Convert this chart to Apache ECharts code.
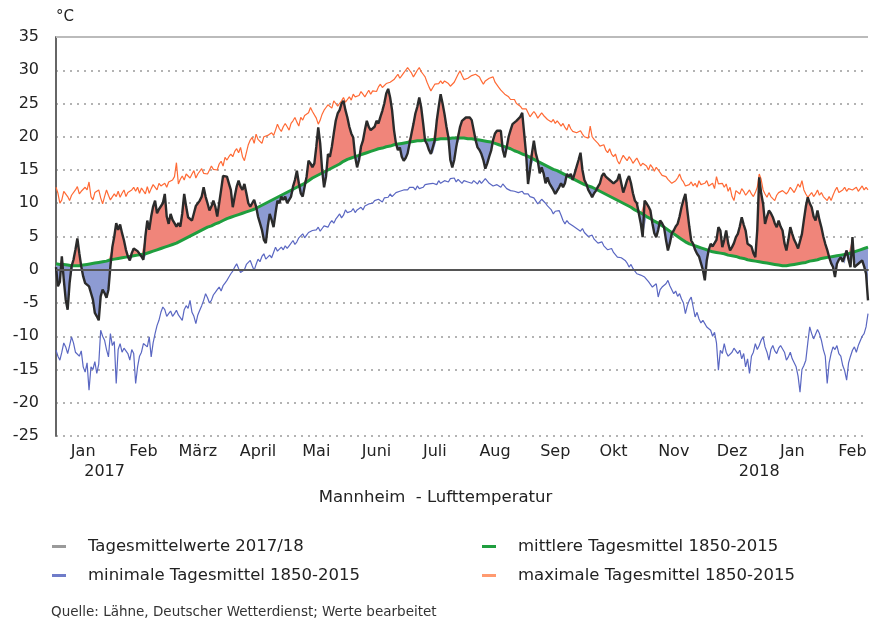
<!DOCTYPE html>
<html>
<head>
<meta charset="utf-8">
<script src="https://cdn.jsdelivr.net/npm/echarts@6/dist/echarts.min.js"></script>
<style>
  html, body { margin: 0; padding: 0; background: #fff; }
  #chart { width: 871px; height: 619px; }
</style>
</head>
<body>
<div id="chart"></div>
<script>
// Mannheim daily air temperature, 1 Jan 2017 .. 23 Feb 2018 (one value per day)
const startDate = Date.UTC(2017, 0, 1)
const dayCount = 419
const monthNames = ['Jan', 'Feb', 'März', 'April', 'Mai', 'Juni', 'Juli', 'Aug', 'Sep', 'Okt', 'Nov', 'Dez']
const yearLabels = { '2017-01-26': '2017', '2017-12-29': '2018' }
const yTicks = [-25, -20, -15, -10, -5, 0, 5, 10, 15, 20, 25, 30, 35]

// Tagesmittelwerte 2017/18
const actual = [
  0.4,-2.5,-1.8,2.0,-1.5,-4.5,-6.0,-2.0,0.5,1.5,3.0,4.7,2.5,0.5,-1.0,-2.0,-2.2,-2.5,-3.5,-4.5,-6.5,-7.0,-7.6,-4.0,-3.0,-3.5,-4.2,-3.0,0.5,3.4,5.0,
  7.0,6.0,6.8,5.5,4.4,3.0,2.0,1.4,2.5,3.2,3.0,2.8,3.0,2.0,1.5,5.0,7.4,6.0,8.0,9.5,10.4,8.5,9.1,9.0,10.0,11.4,8.0,6.9,
  8.4,7.5,7.0,6.5,7.0,6.5,8.5,11.4,9.5,7.9,8.0,7.4,8.5,9.6,10.0,10.4,11.0,12.4,11.0,10.0,8.9,9.5,10.4,9.5,8.0,7.9,12.0,14.1,14.0,14.0,13.0,
  12.0,9.4,11.0,12.5,13.4,12.5,12.0,12.9,11.5,10.0,9.5,10.0,10.5,9.5,8.0,7.0,6.0,4.5,4.0,6.5,8.4,7.5,6.4,8.5,10.4,10.0,11.0,10.5,11.0,10.0,
  10.5,11.0,12.5,13.5,14.9,13.0,11.5,11.0,12.5,14.0,16.4,16.0,15.4,16.0,18.5,21.4,19.0,15.0,12.4,14.0,17.4,17.0,18.5,20.5,22.4,23.5,24.0,25.0,25.4,24.0,22.9,
  21.5,20.5,19.9,17.0,15.4,16.5,18.5,19.4,21.0,22.4,21.5,21.0,21.0,21.5,22.4,22.0,23.0,23.9,25.0,26.5,27.2,25.9,24.0,21.0,19.0,18.0,18.4,17.0,16.4,16.8,
  17.5,19.0,20.5,21.9,23.5,24.5,25.9,24.4,22.0,19.4,18.9,18.0,17.4,17.5,19.5,22.4,24.5,26.4,25.0,23.4,21.5,19.9,16.5,15.4,16.5,18.4,20.0,21.5,22.4,22.6,22.9,
  22.8,22.9,22.5,21.0,19.5,18.4,18.0,17.4,16.5,15.2,16.0,17.0,17.9,19.5,20.5,20.9,21.0,20.9,18.0,16.9,18.4,20.0,21.0,21.9,22.0,22.4,22.4,23.0,23.6,20.5,17.4,
  12.9,15.0,17.5,19.4,17.5,16.4,14.5,15.4,14.5,13.0,13.9,13.0,12.5,12.0,11.4,11.5,12.4,13.0,12.4,13.0,14.4,14.0,14.4,13.5,13.4,15.5,16.5,17.6,15.0,13.5,
  12.9,12.0,11.5,10.9,11.5,11.9,12.5,13.0,14.1,14.5,14.0,14.1,13.5,13.6,13.0,12.9,13.5,14.4,13.0,11.6,12.5,13.5,14.1,13.0,11.5,10.4,10.0,9.9,7.0,4.9,10.4,
  10.0,9.5,8.9,7.0,5.5,4.9,6.0,7.4,7.0,6.4,4.5,2.9,4.0,5.5,5.9,6.5,6.9,8.0,9.4,10.5,11.4,8.9,6.5,4.4,3.9,3.0,2.4,2.0,1.0,0.0,
  -1.6,1.4,3.0,3.9,3.5,3.4,4.5,6.4,5.9,3.4,4.5,5.9,4.0,2.9,3.4,4.0,4.9,5.4,6.5,7.9,6.8,5.9,3.9,4.2,3.5,2.5,1.9,6.0,13.9,11.5,9.9,
  6.9,8.0,8.9,8.5,7.9,7.0,6.4,7.4,6.5,5.9,4.0,2.9,4.5,6.4,5.4,4.5,3.9,3.2,2.9,5.4,7.5,9.5,10.9,10.0,9.4,8.0,7.4,8.9,7.5,6.4,5.0,
  3.9,3.0,1.9,1.0,0.4,-1.1,0.9,1.5,1.9,1.2,0.9,2.9,1.5,0.4,4.9,0.4,0.5,0.9,1.2,1.4,0.5,-0.6,-4.6
]

// mittlere Tagesmittel 1850-2015
const meanT = [
  0.9,0.9,0.8,0.8,0.8,0.7,0.7,0.7,0.6,0.6,0.6,0.6,0.6,0.7,0.7,0.8,0.8,0.9,0.9,1.0,1.0,1.1,1.1,1.2,1.2,1.3,1.3,1.4,1.5,1.5,1.6,
  1.6,1.7,1.7,1.8,1.8,1.9,1.9,2.0,2.0,2.1,2.1,2.2,2.2,2.3,2.4,2.4,2.5,2.6,2.7,2.8,2.9,3.0,3.1,3.2,3.3,3.4,3.5,3.6,
  3.7,3.8,3.9,4.0,4.1,4.3,4.4,4.6,4.7,4.9,5.0,5.2,5.3,5.5,5.6,5.8,5.9,6.1,6.2,6.4,6.5,6.6,6.8,6.9,7.0,7.1,7.3,7.4,7.5,7.7,7.8,
  7.9,8.0,8.1,8.2,8.3,8.4,8.5,8.6,8.7,8.8,8.9,9.0,9.1,9.3,9.4,9.6,9.7,9.9,10.0,10.2,10.3,10.5,10.6,10.7,10.9,11.0,11.2,11.3,11.5,11.6,
  11.8,11.9,12.1,12.2,12.4,12.5,12.7,12.9,13.0,13.2,13.4,13.6,13.8,14.0,14.1,14.3,14.4,14.6,14.7,14.9,15.0,15.2,15.3,15.5,15.6,15.8,15.9,16.1,16.3,16.5,16.6,
  16.7,16.8,16.9,17.0,17.1,17.2,17.3,17.4,17.5,17.6,17.7,17.8,17.9,18.0,18.1,18.2,18.2,18.3,18.4,18.5,18.6,18.6,18.7,18.8,18.9,18.9,19.0,19.0,19.1,19.1,
  19.2,19.2,19.2,19.3,19.3,19.4,19.4,19.4,19.5,19.5,19.5,19.5,19.6,19.6,19.6,19.6,19.6,19.7,19.7,19.7,19.7,19.7,19.8,19.8,19.8,19.8,19.8,19.8,19.8,19.8,19.8,
  19.7,19.7,19.7,19.6,19.6,19.6,19.5,19.5,19.4,19.4,19.3,19.3,19.2,19.1,19.0,18.9,18.8,18.7,18.6,18.5,18.4,18.3,18.2,18.1,17.9,17.8,17.7,17.5,17.4,17.3,17.2,
  17.0,16.9,16.7,16.6,16.5,16.3,16.2,16.0,15.9,15.7,15.6,15.4,15.3,15.1,15.0,14.9,14.7,14.6,14.4,14.3,14.1,14.0,13.8,13.7,13.5,13.4,13.2,13.1,12.9,12.8,
  12.7,12.6,12.5,12.4,12.2,12.1,12.0,11.8,11.7,11.5,11.4,11.2,11.1,10.9,10.8,10.6,10.5,10.3,10.2,10.0,9.9,9.7,9.6,9.4,9.2,9.0,8.9,8.7,8.5,8.4,8.2,
  8.0,7.8,7.7,7.5,7.3,7.1,7.0,6.8,6.6,6.4,6.2,6.0,5.8,5.6,5.4,5.2,5.0,4.8,4.6,4.4,4.2,4.1,3.9,3.8,3.7,3.6,3.5,3.4,3.3,3.2,
  3.1,3.0,2.9,2.8,2.7,2.7,2.6,2.5,2.5,2.4,2.4,2.3,2.2,2.2,2.1,2.0,2.0,1.9,1.8,1.8,1.7,1.6,1.5,1.5,1.4,1.4,1.3,1.2,1.2,1.1,1.1,
  1.0,1.0,0.9,0.9,0.8,0.8,0.7,0.7,0.7,0.6,0.6,0.6,0.6,0.7,0.7,0.8,0.8,0.9,0.9,1.0,1.1,1.1,1.2,1.3,1.3,1.4,1.5,1.5,1.6,1.7,1.7,
  1.8,1.8,1.9,1.9,2.0,2.0,2.1,2.1,2.2,2.2,2.3,2.4,2.4,2.5,2.6,2.7,2.8,2.9,3.0,3.1,3.2,3.3,3.4
]

// minimale Tagesmittel 1850-2015
const minT = [
  -12.1,-13.0,-13.6,-12.4,-11.0,-11.6,-12.6,-11.4,-10.1,-11.0,-12.4,-12.1,-13.0,-12.2,-14.6,-15.4,-14.0,-18.1,-14.6,-15.0,-13.8,-15.6,-14.2,-9.1,-10.0,-10.6,-12.0,-13.1,-9.6,-11.4,-10.8,
  -17.1,-12.0,-11.1,-12.4,-11.8,-11.6,-12.6,-13.6,-12.0,-12.6,-17.1,-14.6,-13.0,-12.4,-11.1,-10.8,-11.6,-10.1,-13.1,-11.0,-9.6,-8.4,-7.6,-6.4,-5.6,-6.0,-7.0,-6.6,
  -6.2,-7.0,-6.6,-6.1,-6.8,-7.2,-7.6,-6.0,-5.4,-5.8,-4.6,-6.4,-7.0,-8.1,-6.8,-6.1,-5.4,-4.6,-3.6,-4.2,-5.0,-4.6,-3.8,-3.4,-3.0,-2.6,-3.2,-2.4,-2.0,-1.6,-1.1,
  -0.6,-0.2,0.4,0.9,0.2,-0.4,-0.6,0.0,0.8,1.0,1.4,0.6,-0.1,0.8,1.6,1.2,2.0,2.4,1.6,1.9,2.2,1.8,2.6,3.4,2.8,3.0,3.4,3.0,3.6,3.2,
  3.6,3.9,4.4,3.8,4.2,4.8,5.0,5.4,4.8,5.2,5.6,5.4,5.9,5.6,6.0,6.4,5.8,6.2,6.6,6.9,6.4,7.0,7.4,7.0,7.6,8.0,8.4,7.8,8.2,9.0,8.6,
  8.4,8.8,9.2,8.6,9.0,8.8,9.4,9.0,9.6,9.4,9.9,9.6,10.0,10.4,10.2,10.6,10.6,10.2,10.8,11.0,10.9,11.4,11.0,11.2,11.6,11.4,11.8,11.6,12.0,11.8,
  12.0,12.4,12.2,12.4,12.0,12.6,12.2,12.4,12.4,12.8,12.6,12.9,12.6,13.0,13.2,12.8,13.4,13.0,13.2,13.4,13.6,13.2,13.7,13.4,13.8,13.2,13.6,13.4,13.0,13.4,13.6,
  13.2,13.4,13.0,13.4,13.2,12.9,13.4,13.0,13.2,13.7,13.4,13.0,12.8,12.6,12.4,12.8,12.6,12.4,12.9,12.6,12.2,12.4,11.9,12.2,11.8,12.0,11.6,11.4,11.8,11.4,11.6,
  11.4,11.0,11.2,10.8,10.6,9.9,10.2,10.6,10.4,10.0,9.6,9.4,9.0,8.4,8.8,8.6,8.9,8.2,7.4,6.9,7.4,7.0,6.9,6.6,6.8,6.2,6.0,5.8,6.2,5.6,
  5.4,5.0,4.8,5.2,4.6,4.4,4.0,3.9,4.2,3.6,3.4,3.0,2.9,3.2,2.6,2.4,1.9,2.2,1.8,1.9,1.4,1.0,0.4,0.8,0.2,-0.2,-0.6,-0.4,-0.8,-1.0,-1.1,
  -1.4,-1.8,-2.0,-2.6,-2.4,-2.1,-4.1,-3.0,-2.6,-2.8,-2.1,-1.6,-2.4,-3.0,-3.6,-3.2,-4.0,-3.6,-4.4,-5.0,-6.6,-5.4,-4.6,-4.1,-5.6,-7.1,-6.4,-7.4,-8.0,-7.6,
  -8.1,-8.6,-8.4,-9.1,-10.0,-9.4,-11.0,-15.1,-12.1,-12.6,-11.1,-12.4,-13.0,-13.1,-12.4,-11.8,-12.1,-12.6,-12.1,-13.4,-12.6,-14.6,-13.4,-15.6,-13.0,-12.4,-11.1,-12.0,-11.4,-10.6,-10.1,
  -11.6,-12.4,-13.6,-12.0,-11.4,-12.2,-12.6,-11.8,-11.4,-11.1,-12.4,-13.6,-13.1,-12.4,-13.4,-14.0,-14.6,-16.0,-18.4,-15.0,-14.4,-13.6,-11.0,-8.6,-9.6,-10.4,-10.1,-9.0,-9.6,-10.6,-12.0,
  -13.0,-17.1,-14.0,-12.6,-11.6,-12.0,-11.4,-12.6,-13.0,-14.4,-15.2,-16.6,-14.0,-13.0,-12.1,-11.6,-12.4,-11.4,-11.1,-10.0,-9.6,-8.6,-6.6
]

// maximale Tagesmittel 1850-2015
const maxT = [
  12.4,11.5,10.0,10.5,11.8,12.0,11.0,10.4,11.2,11.0,12.0,12.5,11.4,11.8,11.5,12.4,12.0,13.2,11.0,10.5,11.6,11.5,12.0,10.8,9.9,11.0,12.0,11.2,10.5,10.6,11.4,
  11.0,11.8,10.9,11.5,12.0,11.0,11.6,11.5,12.0,12.4,11.8,12.4,11.5,12.3,12.0,11.4,12.5,11.5,12.2,12.8,12.5,12.0,13.0,12.6,12.9,13.0,12.4,13.2,
  13.0,13.5,14.0,16.1,12.9,13.6,14.1,13.5,14.4,14.2,13.8,14.4,14.9,13.8,14.4,14.6,15.2,14.5,14.8,14.4,15.0,15.6,15.1,15.4,15.0,15.9,16.3,15.6,16.9,16.5,17.0,
  17.4,17.0,17.8,18.2,17.6,18.4,17.0,16.4,17.6,18.8,19.5,19.9,19.0,20.4,19.6,19.5,19.0,20.0,19.9,20.2,19.9,20.6,20.2,21.0,21.9,21.2,20.8,21.5,22.0,21.5,
  21.0,22.0,22.4,22.9,22.2,21.6,22.9,22.5,23.2,23.0,23.6,24.4,23.8,23.5,22.8,21.9,22.5,23.4,24.0,24.4,24.8,25.0,24.3,25.4,25.0,24.6,25.0,25.4,25.9,25.2,25.6,
  26.0,25.5,26.4,26.0,25.8,26.2,26.8,26.4,26.0,26.5,27.0,26.4,26.9,27.2,26.8,27.5,27.9,27.4,27.6,28.0,27.9,28.2,28.0,28.6,29.0,29.4,28.8,29.2,29.6,30.0,
  30.4,30.0,29.6,29.0,29.5,30.0,30.4,29.8,29.4,29.0,28.2,27.5,26.9,27.4,27.9,27.6,28.0,28.4,28.0,28.4,28.4,28.0,27.6,27.4,28.2,28.8,29.4,29.9,29.2,28.6,28.4,
  28.8,29.0,29.2,29.0,29.4,29.4,29.0,28.4,27.9,28.4,28.6,28.8,29.0,29.0,28.2,27.8,27.4,27.0,26.8,26.4,26.6,26.0,25.6,25.4,25.6,25.0,24.9,24.6,24.2,23.9,24.2,
  23.6,23.0,23.4,23.8,23.4,22.8,23.0,23.6,23.2,23.4,22.6,22.8,22.2,22.6,22.0,22.4,22.0,21.6,22.0,21.4,21.0,21.9,21.2,20.8,21.0,20.6,20.4,20.9,20.4,20.0,
  20.2,19.8,21.6,20.0,19.6,19.4,19.0,18.6,18.4,18.8,18.0,17.6,18.2,17.4,17.0,17.4,16.4,15.9,16.6,17.2,16.8,16.4,17.0,16.6,16.0,16.4,16.8,16.2,15.6,16.0,15.9,
  15.6,15.0,15.8,15.4,14.8,15.4,15.0,14.6,14.2,14.4,14.0,13.6,13.8,13.0,12.9,13.4,13.8,14.4,13.6,13.2,12.6,12.4,12.8,13.2,12.6,13.0,12.4,13.4,12.8,12.6,
  13.0,13.4,12.6,12.4,13.0,12.2,14.0,12.9,12.6,13.0,12.4,12.9,11.8,12.4,11.0,10.4,11.9,11.6,11.4,12.2,11.8,11.2,11.6,12.0,11.4,11.0,11.6,12.4,14.4,13.6,12.0,
  11.4,10.9,11.6,11.0,10.8,10.4,11.2,11.6,11.4,11.9,12.2,11.4,11.8,12.4,12.0,11.6,12.2,12.9,12.4,13.4,12.0,11.4,10.9,11.2,11.6,11.0,11.4,12.0,11.2,11.6,11.0,
  10.8,10.4,11.0,10.4,11.2,11.9,12.4,11.6,11.8,12.0,12.4,11.8,12.2,12.4,12.0,11.9,12.4,11.8,12.2,12.6,12.0,12.4,12.0
]

const days = []
for (let i = 0; i < dayCount; i++) {
  days.push(new Date(startDate + i * 86400000).toISOString().slice(0, 10))
}

// fills between the daily value and the long-term mean (red above, blue below)
const upFill = actual.map((v, i) => Math.max(v - meanT[i], 0))
const downBase = actual.map((v, i) => Math.min(v, meanT[i]))
const downFill = actual.map((v, i) => Math.max(meanT[i] - v, 0))

const font = 'DejaVu Sans'
const chart = echarts.init(document.getElementById('chart'))

const legendItem = (name, color, left, top) => ({
  left: left,
  top: top,
  icon: 'rect',
  itemWidth: 14,
  itemHeight: 3,
  selectedMode: false,
  data: [{ name: name, itemStyle: { color: color } }],
  textStyle: { fontFamily: font, fontSize: 16.5, color: '#222', padding: [0, 0, 0, 17] }
})

const hidden = { symbol: 'none', lineStyle: { opacity: 0 }, silent: true }

chart.setOption({
  animation: false,
  backgroundColor: '#fff',
  textStyle: { fontFamily: font },
  title: [
    {
      text: 'Mannheim  - Lufttemperatur',
      left: 'center',
      top: 484,
      textStyle: { fontFamily: font, fontSize: 16.5, fontWeight: 'normal', color: '#222' }
    },
    {
      text: 'Quelle: Lähne, Deutscher Wetterdienst; Werte bearbeitet',
      left: 46,
      top: 600,
      textStyle: { fontFamily: font, fontSize: 13.5, fontWeight: 'normal', color: '#333' }
    }
  ],
  legend: [
    legendItem('Tagesmittelwerte 2017/18', '#9a9a9a', 47, 533),
    legendItem('mittlere Tagesmittel 1850-2015', '#1f9e3e', 477, 533),
    legendItem('minimale Tagesmittel 1850-2015', '#6f7cc9', 47, 562),
    legendItem('maximale Tagesmittel 1850-2015', '#ff9a70', 477, 562)
  ],
  grid: { left: 56, right: 3, top: 37, bottom: 183 },
  xAxis: [
    {
      type: 'category',
      data: days,
      boundaryGap: false,
      axisLine: { lineStyle: { color: '#666', width: 2 } },
      axisTick: { show: false },
      axisLabel: {
        interval: (idx, val) => val.slice(8) === '15',
        formatter: val => monthNames[+val.slice(5, 7) - 1],
        margin: 8,
        fontFamily: font,
        fontSize: 16,
        color: '#222'
      },
      splitLine: { show: false }
    },
    {
      type: 'category',
      data: days,
      boundaryGap: false,
      position: 'bottom',
      offset: 20,
      axisLine: { show: false },
      axisTick: { show: false },
      axisLabel: {
        interval: (idx, val) => val in yearLabels,
        formatter: val => yearLabels[val] || '',
        margin: 8,
        fontFamily: font,
        fontSize: 16,
        color: '#222'
      }
    }
  ],
  yAxis: {
    type: 'value',
    min: yTicks[0],
    max: yTicks[yTicks.length - 1],
    interval: 5,
    name: '°C',
    nameLocation: 'end',
    nameGap: 12,
    nameTextStyle: { align: 'left', fontFamily: font, fontSize: 15, color: '#222' },
    axisLine: { show: true, lineStyle: { color: '#666', width: 2 } },
    axisTick: { show: false },
    axisLabel: { margin: 17, fontFamily: font, fontSize: 16, color: '#222' },
    splitLine: { lineStyle: { color: '#9a9a9a', width: 1.5, type: [2, 5] } }
  },
  series: [
    Object.assign({ type: 'line', name: 'upBase', stack: 'up', stackStrategy: 'all', data: meanT }, hidden),
    Object.assign({ type: 'line', name: 'upFill', stack: 'up', stackStrategy: 'all', data: upFill,
      areaStyle: { color: '#f0857a', opacity: 1 } }, hidden),
    Object.assign({ type: 'line', name: 'downBase', stack: 'down', stackStrategy: 'all', data: downBase }, hidden),
    Object.assign({ type: 'line', name: 'downFill', stack: 'down', stackStrategy: 'all', data: downFill,
      areaStyle: { color: '#8d9bd3', opacity: 1 } }, hidden),
    {
      type: 'line',
      name: 'minimale Tagesmittel 1850-2015',
      data: minT,
      symbol: 'none',
      lineStyle: { color: '#5a67c2', width: 1.2 },
      itemStyle: { color: '#6f7cc9' }
    },
    {
      type: 'line',
      name: 'maximale Tagesmittel 1850-2015',
      data: maxT,
      symbol: 'none',
      lineStyle: { color: '#ff6a35', width: 1.2 },
      itemStyle: { color: '#ff9a70' }
    },
    {
      type: 'line',
      name: 'mittlere Tagesmittel 1850-2015',
      data: meanT,
      symbol: 'none',
      lineStyle: { color: '#1f9e3e', width: 3 },
      itemStyle: { color: '#1f9e3e' }
    },
    {
      type: 'line',
      name: 'Tagesmittelwerte 2017/18',
      data: actual,
      symbol: 'none',
      lineStyle: { color: '#2b2b2b', width: 2.4 },
      itemStyle: { color: '#9a9a9a' },
      markLine: {
        silent: true,
        symbol: 'none',
        label: { show: false },
        data: [
          { yAxis: 0, lineStyle: { color: '#555', width: 2, type: 'solid' } },
          { yAxis: 35, lineStyle: { color: '#bbb', width: 2, type: 'solid' } }
        ]
      }
    }
  ]
})
</script>
</body>
</html>
